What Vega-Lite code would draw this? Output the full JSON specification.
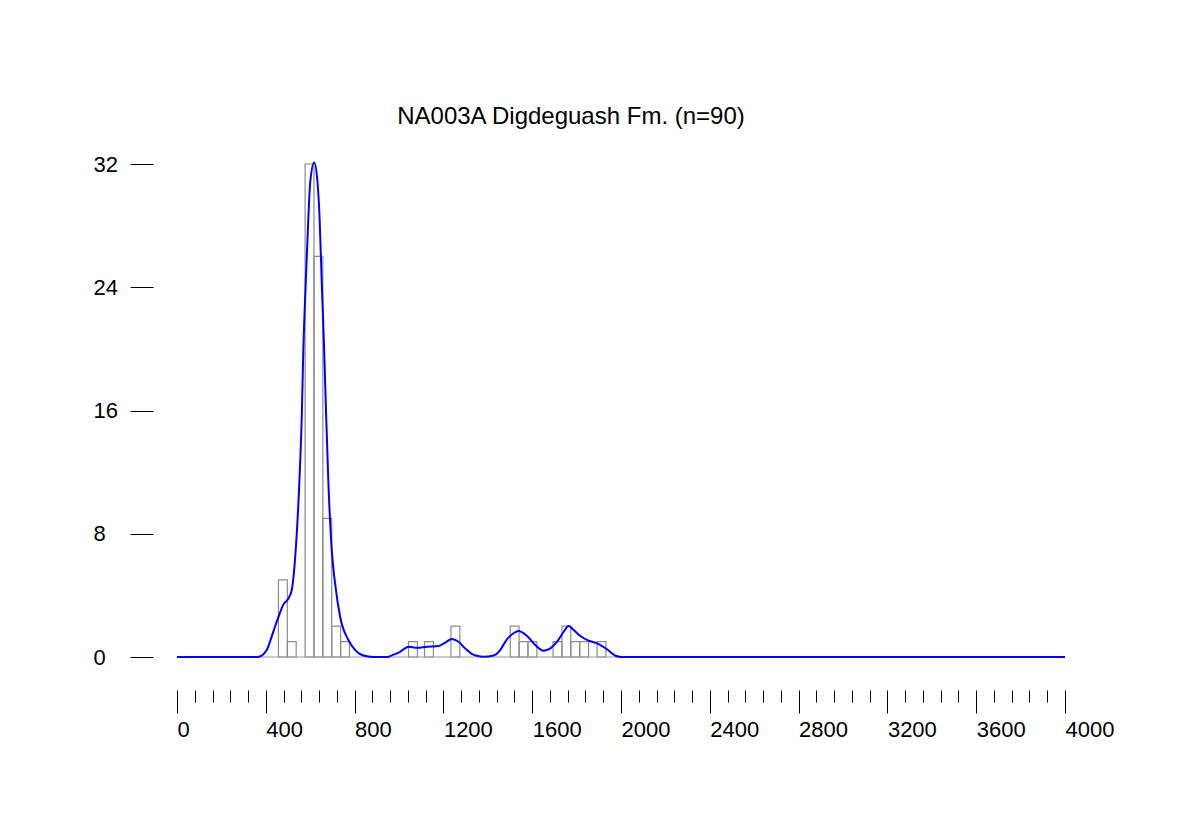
{
  "$schema": "https://vega.github.io/schema/vega-lite/v6.json",
  "width": 888,
  "height": 493,
  "autosize": "none",
  "padding": {"left": 177, "top": 164, "right": 116, "bottom": 163},
  "background": "white",
  "config": {"view": {"stroke": null}, "font": "Liberation Sans"},
  "title": {
    "text": "NA003A Digdeguash Fm. (n=90)",
    "font": "Liberation Sans",
    "fontSize": 24,
    "fontWeight": "normal",
    "color": "black",
    "anchor": "middle",
    "dx": -50,
    "offset": 24
  },
  "datasets": {
    "bins": [
      {"start": 457, "end": 497, "count": 5},
      {"start": 497, "end": 537, "count": 1},
      {"start": 577, "end": 617, "count": 32},
      {"start": 617, "end": 657, "count": 26},
      {"start": 657, "end": 697, "count": 9},
      {"start": 697, "end": 737, "count": 2},
      {"start": 737, "end": 777, "count": 1},
      {"start": 1043, "end": 1083, "count": 1},
      {"start": 1115, "end": 1155, "count": 1},
      {"start": 1234, "end": 1274, "count": 2},
      {"start": 1501, "end": 1541, "count": 2},
      {"start": 1541, "end": 1581, "count": 1},
      {"start": 1581, "end": 1621, "count": 1},
      {"start": 1694, "end": 1734, "count": 1},
      {"start": 1734, "end": 1774, "count": 2},
      {"start": 1774, "end": 1814, "count": 1},
      {"start": 1814, "end": 1854, "count": 1},
      {"start": 1892, "end": 1932, "count": 1}
    ],
    "range": [{"from": 150, "to": 2220, "level": 0}],
    "kde": [
      {"age": 0, "n": 0}, {"age": 300, "n": 0}, {"age": 360, "n": 0.0},
      {"age": 380, "n": 0.08}, {"age": 404, "n": 0.45}, {"age": 434, "n": 1.65},
      {"age": 457, "n": 2.6}, {"age": 479, "n": 3.4}, {"age": 502, "n": 3.8},
      {"age": 517, "n": 4.35}, {"age": 532, "n": 6.4}, {"age": 551, "n": 11.3},
      {"age": 562, "n": 15.6}, {"age": 569, "n": 19.9}, {"age": 580, "n": 24.3},
      {"age": 592, "n": 28.6}, {"age": 600, "n": 30.8}, {"age": 618, "n": 32.1},
      {"age": 633, "n": 30.8}, {"age": 642, "n": 28.6}, {"age": 652, "n": 24.3},
      {"age": 663, "n": 19.9}, {"age": 672, "n": 15.6}, {"age": 682, "n": 11.3},
      {"age": 697, "n": 6.95}, {"age": 712, "n": 4.79}, {"age": 735, "n": 2.6},
      {"age": 772, "n": 1.1}, {"age": 803, "n": 0.45}, {"age": 833, "n": 0.13},
      {"age": 870, "n": 0.02}, {"age": 900, "n": 0}, {"age": 950, "n": 0},
      {"age": 960, "n": 0.06}, {"age": 1005, "n": 0.34}, {"age": 1043, "n": 0.67},
      {"age": 1081, "n": 0.6}, {"age": 1126, "n": 0.67}, {"age": 1178, "n": 0.71},
      {"age": 1208, "n": 0.93}, {"age": 1238, "n": 1.17}, {"age": 1268, "n": 0.99},
      {"age": 1298, "n": 0.56}, {"age": 1329, "n": 0.19}, {"age": 1351, "n": 0.08},
      {"age": 1380, "n": 0.02}, {"age": 1426, "n": 0.1}, {"age": 1456, "n": 0.45},
      {"age": 1486, "n": 1.15}, {"age": 1516, "n": 1.54}, {"age": 1539, "n": 1.69},
      {"age": 1577, "n": 1.36}, {"age": 1614, "n": 0.78}, {"age": 1652, "n": 0.41},
      {"age": 1682, "n": 0.56}, {"age": 1712, "n": 0.99}, {"age": 1742, "n": 1.64},
      {"age": 1764, "n": 2.01}, {"age": 1787, "n": 1.75}, {"age": 1817, "n": 1.36},
      {"age": 1854, "n": 1.06}, {"age": 1893, "n": 0.89}, {"age": 1937, "n": 0.5},
      {"age": 1975, "n": 0.08}, {"age": 2000, "n": 0}, {"age": 4000, "n": 0}
    ]
  },
  "layer": [
    {
      "data": {"name": "bins"},
      "mark": {"type": "rect", "fill": null, "fillOpacity": 0, "stroke": "#8c8c8c", "strokeWidth": 1.2},
      "encoding": {
        "x": {
          "field": "start", "type": "quantitative",
          "scale": {"domain": [0, 4000], "nice": false, "zero": false},
          "axis": {
            "values": [0, 80, 160, 240, 320, 400, 480, 560, 640, 720, 800, 880, 960, 1040, 1120, 1200, 1280, 1360, 1440, 1520, 1600, 1680, 1760, 1840, 1920, 2000, 2080, 2160, 2240, 2320, 2400, 2480, 2560, 2640, 2720, 2800, 2880, 2960, 3040, 3120, 3200, 3280, 3360, 3440, 3520, 3600, 3680, 3760, 3840, 3920, 4000],
            "tickCount": 100,
            "title": null,
            "grid": false,
            "domain": false,
            "offset": 33,
            "tickColor": "black",
            "tickWidth": 1,
            "tickSize": {"condition": {"test": "datum.value % 400 === 0", "value": 23}, "value": 12},
            "labelExpr": "datum.value % 400 === 0 ? format(datum.value, 'd') : ''",
            "labelAlign": "left",
            "labelBaseline": "top",
            "labelPadding": 6,
            "labelFont": "Liberation Sans",
            "labelFontSize": 22,
            "labelColor": "black",
            "labelOverlap": false,
            "labelFlush": false,
            "labelBound": false
          }
        },
        "x2": {"field": "end"},
        "y": {
          "field": "count", "type": "quantitative",
          "scale": {"domain": [0, 32], "nice": false},
          "axis": {
            "values": [0, 8, 16, 24, 32],
            "tickCount": 20,
            "title": null,
            "grid": false,
            "domain": false,
            "offset": 24,
            "tickColor": "black",
            "tickWidth": 1,
            "tickSize": 23,
            "labelAlign": "left",
            "labelBaseline": "middle",
            "labelPadding": 37,
            "labelFont": "Liberation Sans",
            "labelFontSize": 22,
            "labelColor": "black",
            "labelOverlap": false,
            "labelFlush": false,
            "labelBound": false
          }
        },
        "y2": {"datum": 0}
      }
    },
    {
      "data": {"name": "range"},
      "mark": {"type": "rule", "stroke": "#9a9a9a", "strokeWidth": 1.2},
      "encoding": {
        "x": {"field": "from", "type": "quantitative"},
        "x2": {"field": "to"},
        "y": {"field": "level", "type": "quantitative"}
      }
    },
    {
      "data": {"name": "kde"},
      "mark": {"type": "line", "stroke": "#0000ff", "strokeWidth": 2, "interpolate": "monotone", "clip": false},
      "encoding": {
        "x": {"field": "age", "type": "quantitative"},
        "y": {"field": "n", "type": "quantitative"}
      }
    }
  ]
}
